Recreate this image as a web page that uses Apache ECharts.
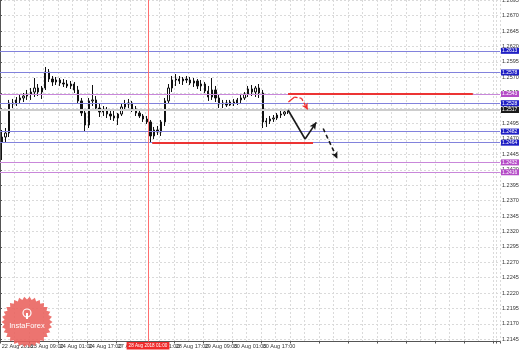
<!DOCTYPE html>
<html><head><meta charset="utf-8">
<script src="https://cdn.jsdelivr.net/npm/echarts@6/dist/echarts.min.js"></script>
<style>html,body{margin:0;padding:0;background:#fff}#c{width:519px;height:350px}</style>
</head><body><div id="c"></div>
<script>
// ---- data ----
const tickLabels = ["22 Aug 2018","23 Aug 09:00","24 Aug 01:00","24 Aug 17:00","27 Aug 09:00","28 Aug 01:00","28 Aug 17:00","29 Aug 09:00","30 Aug 01:00","30 Aug 17:00"];
const barsPerLabel = 8;       // 2-hour bars, label every 16 hours
const nCategories = 138;      // visible bar slots incl. empty future area
const yTicks = [1.2145,1.2170,1.2195,1.2220,1.2245,1.2270,1.2295,1.2320,1.2345,1.2370,1.2395,1.2420,1.2445,1.2470,1.2495,1.2520,1.2545,1.2570,1.2595,1.2620,1.2645,1.2670,1.2695];
const yMin = 1.21414, yMax = 1.26955;
// [open, high, low, close]
const candles = [
[1.24651,1.24846,1.24359,1.24732],[1.24732,1.24878,1.24635,1.24797],[1.24797,1.25333,1.24732,1.25284],[1.25284,1.25349,1.25202,1.25268],
[1.25268,1.25381,1.25235,1.25333],[1.25333,1.25414,1.25268,1.25365],[1.25365,1.25446,1.25300,1.25397],[1.25397,1.25495,1.25333,1.25430],
[1.25430,1.25527,1.25333,1.25462],[1.25462,1.25689,1.25381,1.25527],[1.25527,1.25592,1.25397,1.25462],[1.25462,1.25560,1.25349,1.25527],
[1.25527,1.25868,1.25495,1.25787],[1.25787,1.25835,1.25625,1.25673],[1.25673,1.25722,1.25560,1.25625],[1.25625,1.25706,1.25576,1.25657],
[1.25657,1.25689,1.25560,1.25608],[1.25608,1.25673,1.25543,1.25592],[1.25592,1.25657,1.25527,1.25560],[1.25560,1.25641,1.25511,1.25592],
[1.25592,1.25625,1.25446,1.25495],[1.25495,1.25560,1.25268,1.25317],[1.25317,1.25365,1.25073,1.25122],[1.25122,1.25170,1.24813,1.24927],
[1.24927,1.25365,1.24878,1.25317],[1.25317,1.25576,1.25235,1.25333],[1.25333,1.25397,1.25154,1.25202],[1.25202,1.25284,1.25057,1.25138],
[1.25138,1.25235,1.25073,1.25170],[1.25170,1.25219,1.25040,1.25105],[1.25105,1.25186,1.25008,1.25073],[1.25073,1.25154,1.24992,1.25040],
[1.25040,1.25122,1.24927,1.25105],[1.25105,1.25268,1.25073,1.25219],[1.25219,1.25333,1.25170,1.25268],[1.25268,1.25349,1.25202,1.25284],
[1.25284,1.25317,1.25138,1.25186],[1.25186,1.25235,1.25073,1.25122],[1.25122,1.25170,1.25040,1.25073],[1.25073,1.25105,1.24976,1.25024],
[1.25024,1.25073,1.24943,1.24976],[1.24976,1.25008,1.24651,1.24749],[1.24749,1.24895,1.24700,1.24846],[1.24846,1.24911,1.24765,1.24813],
[1.24813,1.25008,1.24749,1.24976],[1.24976,1.25365,1.24911,1.25317],[1.25317,1.25592,1.25268,1.25527],[1.25527,1.25722,1.25462,1.25657],
[1.25657,1.25754,1.25560,1.25673],[1.25673,1.25722,1.25592,1.25641],[1.25641,1.25706,1.25576,1.25673],[1.25673,1.25722,1.25608,1.25657],
[1.25657,1.25706,1.25576,1.25608],[1.25608,1.25689,1.25543,1.25641],[1.25641,1.25673,1.25511,1.25560],[1.25560,1.25657,1.25478,1.25592],
[1.25592,1.25625,1.25446,1.25478],[1.25478,1.25560,1.25317,1.25381],[1.25381,1.25689,1.25333,1.25495],[1.25495,1.25560,1.25300,1.25365],
[1.25365,1.25430,1.25202,1.25268],[1.25268,1.25333,1.25202,1.25284],[1.25284,1.25333,1.25219,1.25251],[1.25251,1.25333,1.25235,1.25300],
[1.25300,1.25349,1.25235,1.25284],[1.25284,1.25365,1.25251,1.25333],[1.25333,1.25414,1.25284,1.25365],[1.25365,1.25462,1.25333,1.25430],
[1.25430,1.25560,1.25381,1.25511],[1.25511,1.25576,1.25397,1.25462],[1.25462,1.25560,1.25381,1.25527],[1.25527,1.25592,1.25365,1.25446],
[1.25446,1.25495,1.24878,1.24976],[1.24976,1.25040,1.24895,1.24992],[1.24992,1.25073,1.24943,1.25024],[1.25024,1.25089,1.24976,1.25040],
[1.25040,1.25122,1.25008,1.25089],[1.25089,1.25154,1.25040,1.25105],[1.25105,1.25170,1.25073,1.25138],[1.25138,1.25186,1.25105,1.25170]
];
const blueLevels = [1.2613,1.2578,1.2528,1.2482,1.2464];
const violetLevels = [1.2543,1.2432,1.2416];
const currentPrice = 1.2517;
// annotations, x in bar units
const supportSegment = [[42.0,1.2464],[86.4,1.2464]];
const resistanceSegment = [[79.5,1.2543],[130.5,1.2543]];
const crosshairX = 40.85;
const crosshairLabel = "28 Aug 2018 01:00";
const redArrowPath = [[79.6,1.2530],[81.3,1.2538],[83.2,1.2536],[84.9,1.2518]];
const blackZigzag = [[79.5,1.2517],[84.2,1.2470],[87.3,1.2497]];
const blackDashed = [[89.2,1.2487],[93.1,1.2438]];

// ---- helpers ----
function segs(path){
  const out = [];
  for (let i=0;i<path.length-1;i++){
    out.push([{coord:path[i], symbol:'none'},{coord:path[i+1], symbol:'none'}]);
  }
  return out;
}
const fmt = v => Number(v).toFixed(4);
const boxLabel = (bg) => ({show:true, position:'end', distance:1, formatter: p=>fmt(p.value), color:'#fff', backgroundColor:bg, fontSize:5, fontFamily:'Liberation Sans', padding:[1,2,0,1]});

const chart = echarts.init(document.getElementById('c'), null, {renderer:'canvas'});

// seal shape
const sealPts = [];
const cx=27, cy=322, teeth=30;
for (let k=0;k<teeth*2;k++){ const r = k%2?22.5:25.5; const a = Math.PI*k/teeth; sealPts.push([cx+r*Math.cos(a), cy+r*Math.sin(a)]); }

chart.setOption({
  animation:false,
  backgroundColor:'#ffffff',
  grid:{left:0, right:19, top:0, bottom:8.5, containLabel:false, outerBoundsMode:'none'},
  xAxis:[{
    type:'category', data:Array.from({length:nCategories},(_,i)=>String(i)), boundaryGap:true,
    axisLine:{lineStyle:{color:'#555',width:1}},
    axisTick:{show:true, interval:barsPerLabel-1, length:2, lineStyle:{color:'#555'}},
    axisLabel:{interval:0, align:'left', margin:1.5, fontSize:5.5, color:'#333', fontFamily:'Liberation Sans',
      formatter:(v,i)=> (i%barsPerLabel===0 && i/barsPerLabel<tickLabels.length) ? tickLabels[i/barsPerLabel] : ''},
    splitLine:{show:true, interval:3, lineStyle:{color:'#dadada', type:[2,2], width:1}}
  },{
    type:'value', min:0, max:nCategories, show:false
  }],
  yAxis:{
    type:'value', position:'right', min:yMin, max:yMax, scale:true,
    axisLine:{show:true, lineStyle:{color:'#555'}},
    axisTick:{show:true, length:2, customValues:yTicks, lineStyle:{color:'#555'}},
    axisLabel:{customValues:yTicks, formatter:fmt, fontSize:5.5, color:'#333', margin:2, fontFamily:'Liberation Sans'},
    splitLine:{show:false}
  },
  series:[
    { // horizontal grid
      type:'line', xAxisIndex:1, data:[], silent:true, z:0,
      markLine:{silent:true, symbol:'none', z:0, precision:6, label:{show:false}, animation:false,
        lineStyle:{color:'#dadada', type:[2,2], width:1},
        data: yTicks.map(v=>({yAxis:v}))}
    },
    {
      type:'candlestick', xAxisIndex:0, z:3,
      data: candles.map(([o,h,l,c])=>[o,c,l,h]),
      barWidth:1.8,
      itemStyle:{color:'#ffffff', color0:'#111', borderColor:'#111', borderColor0:'#111', borderWidth:1}
    },
    { // levels
      type:'line', xAxisIndex:1, data:[], silent:true, z:2,
      markLine:{silent:true, symbol:'none', animation:false, z:7, precision:6,
        data: [
          ...blueLevels.map(v=>({yAxis:v, lineStyle:{color:'#8282dc', width:1, type:'solid'}, label:boxLabel('#1f1fc4')})),
          ...violetLevels.map(v=>({yAxis:v, lineStyle:{color:'#c987da', width:1, type:'solid'}, label:boxLabel('#b54cc7')})),
          {yAxis:currentPrice, lineStyle:{color:'#cdcdcd', width:2, type:'solid'}, label:boxLabel('#1a1a1a')}
        ]}
    },
    { // crosshair + red segments + arrows
      type:'line', xAxisIndex:1, data:[], silent:true, z:5,
      markLine:{silent:true, symbol:'none', animation:false, z:8, precision:6,
        label:{show:false},
        data:[
          {xAxis:crosshairX, lineStyle:{color:'#ff6f6f', width:1, type:'solid'},
            label:{show:true, position:'start', distance:0.5, formatter:crosshairLabel, color:'#fff', backgroundColor:'#f02a2a', fontSize:4.6, padding:[1.5,2,1,2], fontFamily:'Liberation Sans'}},
          [{coord:supportSegment[0], lineStyle:{color:'#ec3434', width:2, type:'solid'}},{coord:supportSegment[1]}],
          [{coord:resistanceSegment[0], lineStyle:{color:'#ec3434', width:2, type:'solid'}},{coord:resistanceSegment[1]}],
          ...segs(redArrowPath).map((s,i,a)=>{ s[0].lineStyle={color:'#f03030', width:1.3, type:i===0?'solid':[3,2]}; if(i===a.length-1){s[1].symbol='arrow'; s[1].symbolSize=[5,6];} return s;}),
          ...segs(blackZigzag).map((s,i,a)=>{ s[0].lineStyle={color:'#1a1a1a', width:1.6, type:'solid'}; if(i===a.length-1){s[1].symbol='arrow'; s[1].symbolSize=[5,7];} return s;}),
          ...segs(blackDashed).map((s,i,a)=>{ s[0].lineStyle={color:'#1a1a1a', width:1.6, type:[4,3]}; if(i===a.length-1){s[1].symbol='arrow'; s[1].symbolSize=[5,7];} return s;})
        ]}
    }
  ],
  graphic:[
    {type:'polygon', shape:{points:sealPts}, style:{fill:'#e9615c', opacity:0.88}, z:50},
    {type:'circle', shape:{cx:cx, cy:cy-9, r:4}, style:{fill:'none', stroke:'#fff', lineWidth:1.2}, z:51},
    {type:'rect', shape:{x:cx-1, y:cy-9, width:2, height:6}, style:{fill:'#fff'}, z:51},
    {type:'text', x:cx, y:cy+4, style:{text:'InstaForex', fill:'#fff', font:'7.5px "Liberation Sans"', textAlign:'center', textVerticalAlign:'middle'}, z:51}
  ]
});
</script></body></html>
